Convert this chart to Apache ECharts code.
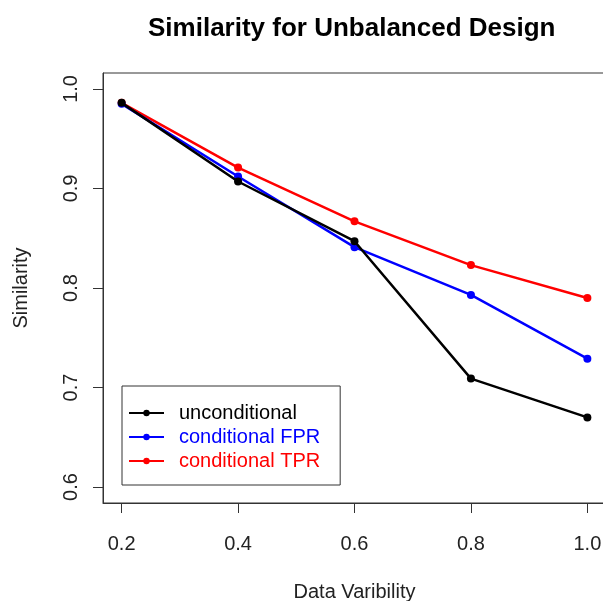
<!DOCTYPE html>
<html>
<head>
<meta charset="utf-8">
<script src="https://cdn.jsdelivr.net/npm/echarts@6/dist/echarts.min.js"></script>
<style>html,body{margin:0;padding:0;background:#fff}#c{width:603px;height:601px}</style>
</head>
<body>
<div id="c"></div>
<script>
const xValues = [0.2, 0.4, 0.6, 0.8, 1.0];
const unconditional = [0.986, 0.907, 0.847, 0.709, 0.670];
const conditionalFPR = [0.985, 0.912, 0.841, 0.793, 0.729];
const conditionalTPR = [0.986, 0.921, 0.867, 0.823, 0.790];
const xTicks = [0.2, 0.4, 0.6, 0.8, 1.0];
const yTicks = [0.6, 0.7, 0.8, 0.9, 1.0];
const seriesNames = ['unconditional', 'conditional FPR', 'conditional TPR'];
const seriesColors = ['#000000', '#0000ff', '#ff0000'];
const seriesData = [unconditional, conditionalFPR, conditionalTPR];

const font = 'Liberation Sans, Arial, sans-serif';
const chart = echarts.init(document.getElementById('c'), null, {renderer: 'canvas'});
chart.setOption({
  animation: false,
  backgroundColor: '#ffffff',
  title: {
    text: 'Similarity for Unbalanced Design',
    left: 148, top: 16, padding: 0,
    textStyle: {fontFamily: font, fontSize: 26, fontWeight: 'bold', color: '#000'}
  },
  legend: {
    orient: 'vertical',
    left: 122, top: 386,
    padding: [17, 20, 14, 6],
    borderColor: '#333', borderWidth: 1,
    itemWidth: 35, itemHeight: 8, itemGap: 4,
    textStyle: {fontFamily: font, fontSize: 20, padding: [0, 0, 0, 10]},
    data: seriesNames.map((n, i) => ({name: n, textStyle: {color: seriesColors[i]}}))
  },
  grid: {left: 103, top: 73, right: -3, bottom: 98, show: true, borderColor: '#333', borderWidth: 1, outerBoundsMode: 'none', containLabel: false},
  xAxis: {
    type: 'value', min: 0.168, max: 1.032,
    name: 'Data Varibility', nameLocation: 'middle', nameGap: 79,
    nameTextStyle: {fontFamily: font, fontSize: 20, color: '#222'},
    axisLine: {show: true, lineStyle: {color: '#333', width: 1}},
    axisTick: {show: true, customValues: xTicks, inside: false, length: 10, lineStyle: {color: '#333'}},
    axisLabel: {customValues: xTicks, formatter: v => v.toFixed(1), margin: 31, fontFamily: font, fontSize: 20, color: '#222'},
    splitLine: {show: false}
  },
  yAxis: {
    type: 'value', min: 0.584, max: 1.016,
    name: 'Similarity', nameLocation: 'middle', nameGap: 72, nameRotate: 90,
    nameTextStyle: {fontFamily: font, fontSize: 20, color: '#222'},
    axisLine: {show: true, lineStyle: {color: '#333', width: 1}},
    axisTick: {show: true, customValues: yTicks, length: 10, lineStyle: {color: '#333'}},
    axisLabel: {customValues: yTicks, formatter: v => v.toFixed(1), rotate: 90, margin: 22, fontFamily: font, fontSize: 20, color: '#222'},
    splitLine: {show: false}
  },
  series: seriesNames.map((n, i) => ({
    name: n, type: 'line',
    data: xValues.map((x, j) => [x, seriesData[i][j]]),
    symbol: 'circle', symbolSize: 8,
    lineStyle: {color: seriesColors[i], width: 2.5},
    itemStyle: {color: seriesColors[i]},
    z: 3 - i
  }))
});
</script>
</body>
</html>
